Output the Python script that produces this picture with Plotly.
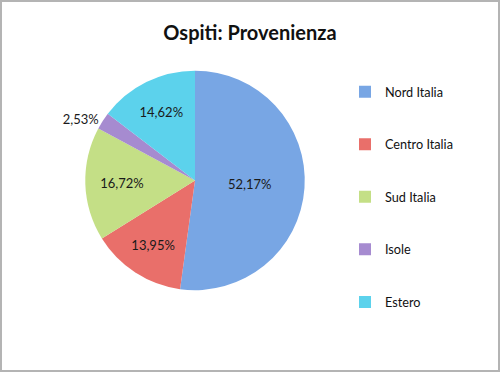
import plotly.graph_objects as go

categories = ["Nord Italia", "Centro Italia", "Sud Italia", "Isole", "Estero"]
values = [52.17, 13.95, 16.72, 2.53, 14.62]
colors = ["#78A6E4", "#E96F6A", "#C4DF86", "#A68BD0", "#5CD2EC"]
text_positions = ["inside", "inside", "inside", "outside", "inside"]

legend_labels = [" <br>" + c + "<br> " for c in categories]

fig = go.Figure(
    go.Pie(
        labels=legend_labels,
        values=values,
        sort=False,
        direction="clockwise",
        rotation=0,
        marker=dict(colors=colors, line=dict(color="white", width=0)),
        texttemplate="%{value:.2f}%",
        textposition=text_positions,
        insidetextfont=dict(color="#1a1a1a", size=13),
        outsidetextfont=dict(color="#1a1a1a", size=13),
        insidetextorientation="horizontal",
        domain=dict(x=[0.17, 0.61], y=[0.22, 0.81]),
        showlegend=True,
    )
)

fig.update_layout(
    width=500,
    height=372,
    margin=dict(l=0, r=0, t=0, b=0),
    paper_bgcolor="white",
    plot_bgcolor="white",
    separators=",.",
    font=dict(family="Lato, 'Open Sans', sans-serif", color="#111111"),
    title=dict(
        text="<b>Ospiti: Provenienza</b>",
        x=0.5,
        xanchor="center",
        y=1 - 33 / 372,
        yanchor="middle",
        font=dict(size=20, color="#111111"),
    ),
    legend=dict(
        x=0.69,
        xanchor="left",
        y=1 - 197 / 372,
        yanchor="middle",
        font=dict(size=12.7, color="#111111"),
        valign="middle",
        bgcolor="rgba(0,0,0,0)",
    ),
    shapes=[
        dict(
            type="rect",
            xref="paper",
            yref="paper",
            x0=1 / 500,
            x1=1 - 1 / 500,
            y0=1 / 372,
            y1=1 - 1 / 372,
            line=dict(color="#B4B4B4", width=2),
            fillcolor="rgba(0,0,0,0)",
        )
    ],
)

fig.write_html(
    "out.html",
    config={"displayModeBar": False},
    post_script="document.body.style.margin='0';document.body.style.overflow='hidden';",
)
